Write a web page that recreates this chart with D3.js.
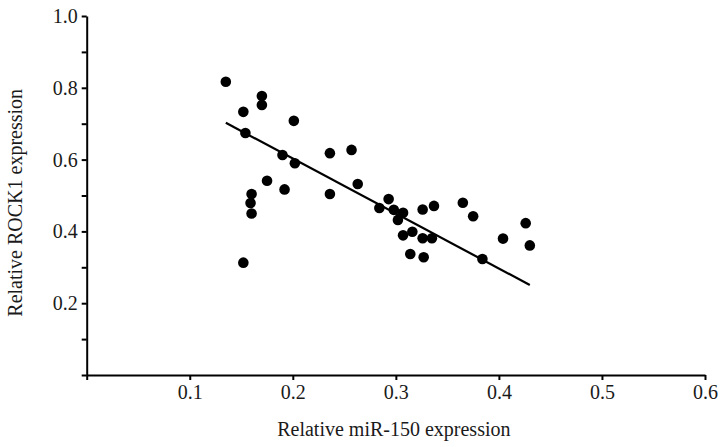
<!DOCTYPE html>
<html>
<head>
<meta charset="utf-8">
<script src="https://cdn.jsdelivr.net/npm/d3@7"></script>
<style>
  html, body { margin: 0; padding: 0; background: #fff; }
  svg { display: block; font-family: "Liberation Serif", "Times New Roman", serif; }
</style>
</head>
<body>
<svg id="chart" width="720" height="447"></svg>
<script>
// miR-150 (x) vs ROCK1 (y) relative expression
const mir150 = [0.135, 0.170, 0.170, 0.152, 0.201, 0.154, 0.190, 0.202, 0.175, 0.192,
                0.160, 0.159, 0.160, 0.152, 0.236, 0.257, 0.236, 0.263, 0.293, 0.284,
                0.298, 0.307, 0.302, 0.326, 0.337, 0.365, 0.375, 0.426, 0.316, 0.307,
                0.326, 0.335, 0.314, 0.327, 0.384, 0.404, 0.430];
const rock1  = [0.817, 0.777, 0.752, 0.733, 0.708, 0.674, 0.613, 0.590, 0.541, 0.517,
                0.504, 0.479, 0.450, 0.313, 0.618, 0.627, 0.504, 0.532, 0.490, 0.465,
                0.460, 0.452, 0.432, 0.461, 0.471, 0.480, 0.442, 0.423, 0.399, 0.389,
                0.381, 0.381, 0.337, 0.328, 0.323, 0.380, 0.361];
// regression line end points
const fitX = [0.135, 0.430];
const fitY = [0.7025, 0.2507];

const xTicks = [0, 0.1, 0.2, 0.3, 0.4, 0.5, 0.6];
const xTickLabels = ["", "0.1", "0.2", "0.3", "0.4", "0.5", "0.6"];
const yTicks = [0, 0.1, 0.2, 0.3, 0.4, 0.5, 0.6, 0.7, 0.8, 0.9, 1.0];
const yTickLabels = ["", "", "0.2", "", "0.4", "", "0.6", "", "0.8", "", "1.0"];
const xTitle = "Relative miR-150 expression";
const yTitle = "Relative ROCK1 expression";

const svg = d3.select("#chart");
const L = 86.7, R = 705, T = 16, B = 375;

const x = d3.scaleLinear().domain([0, 0.6]).range([L, R]);
const y = d3.scaleLinear().domain([0, 1.0]).range([B, T]);

const xAxis = d3.axisBottom(x)
  .tickValues(xTicks)
  .tickFormat((d, i) => xTickLabels[i])
  .tickSizeInner(5).tickSizeOuter(0).tickPadding(5);
const yAxis = d3.axisLeft(y)
  .tickValues(yTicks)
  .tickFormat((d, i) => yTickLabels[i])
  .tickSizeInner(5).tickSizeOuter(0).tickPadding(4);

const gx = svg.append("g").attr("transform", `translate(0,${B})`).call(xAxis);
const gy = svg.append("g").attr("transform", `translate(${L},0)`).call(yAxis);

[gx, gy].forEach(g => {
  g.selectAll("path.domain").attr("stroke", "#000").attr("stroke-width", 2);
  g.selectAll(".tick line").attr("stroke", "#000").attr("stroke-width", 2);
  g.selectAll(".tick text")
    .attr("fill", "#1a1a1a")
    .style("font-family", '"Liberation Serif", "Times New Roman", serif')
    .style("font-size", "20px");
});

// regression line
svg.append("line")
  .attr("x1", x(fitX[0])).attr("y1", y(fitY[0]))
  .attr("x2", x(fitX[1])).attr("y2", y(fitY[1]))
  .attr("stroke", "#000").attr("stroke-width", 2.2);

// points
svg.append("g").selectAll("circle")
  .data(mir150.map((v, i) => [v, rock1[i]]))
  .join("circle")
  .attr("cx", d => x(d[0]))
  .attr("cy", d => y(d[1]))
  .attr("r", 5.3)
  .attr("fill", "#000");

// axis titles
svg.append("text")
  .attr("x", (L + R) / 2 - 2).attr("y", 436)
  .attr("text-anchor", "middle")
  .attr("fill", "#1a1a1a")
  .style("font-size", "20px")
  .text(xTitle);

svg.append("text")
  .attr("transform", `translate(21.5,${(316.7 + 88.9) / 2}) rotate(-90)`)
  .attr("text-anchor", "middle")
  .attr("fill", "#1a1a1a")
  .style("font-size", "20px")
  .text(yTitle);
</script>
</body>
</html>
